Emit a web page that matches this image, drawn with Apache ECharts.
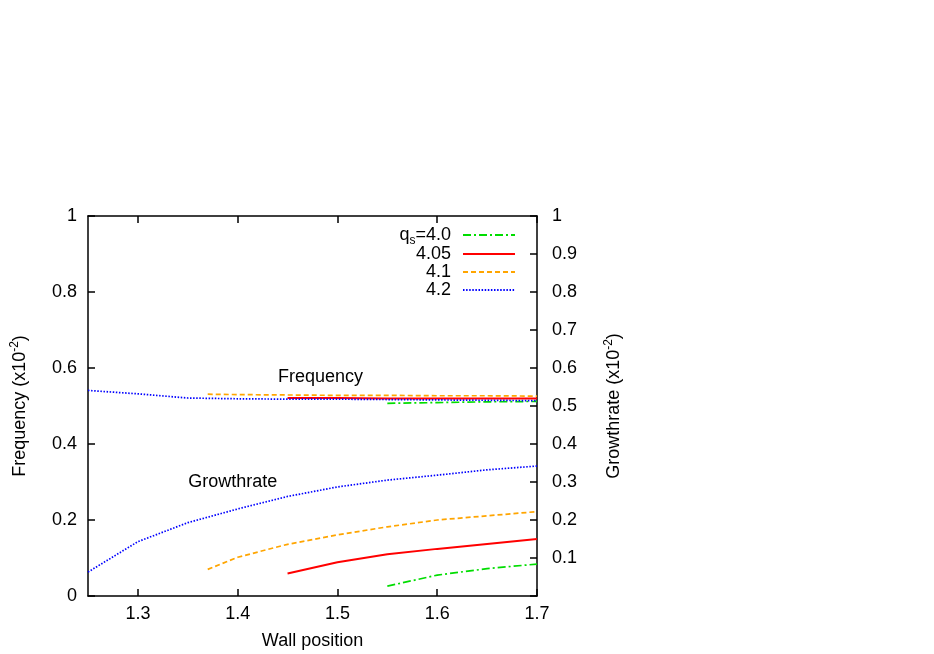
<!DOCTYPE html>
<html><head><meta charset="utf-8">
<script src="https://cdn.jsdelivr.net/npm/echarts@6/dist/echarts.min.js"></script>
<style>html,body{margin:0;padding:0;background:#fff}#c{width:934px;height:654px}</style>
</head><body><div id="c"></div>
<script>
// ---- data ----
const names = ['4.0', '4.05', '4.1', '4.2'];
const x40 = [1.55, 1.6, 1.65, 1.7];
const freq40 = [0.507, 0.509, 0.511, 0.512];
const grow40 = [0.026, 0.055, 0.072, 0.084];
const x405 = [1.45, 1.5, 1.55, 1.6, 1.65, 1.7];
const freq405 = [0.521, 0.521, 0.520, 0.520, 0.520, 0.520];
const grow405 = [0.059, 0.089, 0.110, 0.124, 0.137, 0.150];
const x41 = [1.37, 1.4, 1.45, 1.5, 1.55, 1.6, 1.65, 1.7];
const freq41 = [0.531, 0.530, 0.529, 0.528, 0.528, 0.527, 0.527, 0.526];
const grow41 = [0.070, 0.102, 0.136, 0.161, 0.182, 0.200, 0.211, 0.222];
const x42 = [1.25, 1.3, 1.35, 1.4, 1.45, 1.5, 1.55, 1.6, 1.65, 1.7];
const freq42 = [0.541, 0.532, 0.521, 0.519, 0.518, 0.518, 0.517, 0.516, 0.515, 0.514];
const grow42 = [0.063, 0.143, 0.193, 0.229, 0.262, 0.287, 0.305, 0.318, 0.332, 0.342];
const xTicks = [1.3, 1.4, 1.5, 1.6, 1.7];
const annotations = [{text: 'Frequency', x: 1.483, y: 0.577}, {text: 'Growthrate', x: 1.395, y: 0.300}];

const FONT = '"Liberation Sans", Arial, sans-serif';
const styles = {
  '4.0': {color: '#00dd00', type: [8, 3, 2, 3], width: 1.7},
  '4.05': {color: '#ff0000', type: 'solid', width: 2},
  '4.1': {color: '#ffa500', type: [5, 3], width: 1.7},
  '4.2': {color: '#0000ff', type: [1.5, 1.6], width: 1.7}
};
const sets = {'4.0': [x40, freq40, grow40], '4.05': [x405, freq405, grow405], '4.1': [x41, freq41, grow41], '4.2': [x42, freq42, grow42]};

const zip = (a, b) => a.map((v, i) => [v, b[i]]);
const series = [];
names.forEach(n => {
  const [xs, f, g] = sets[n];
  const st = styles[n];
  [[f, 0], [g, 1]].forEach(([ys, yi]) => {
    series.push({
      name: n, type: 'line', yAxisIndex: yi, data: zip(xs, ys),
      symbol: 'none', showSymbol: false, smooth: false, animation: false,
      color: st.color,
      lineStyle: {color: st.color, type: st.type, width: st.width}
    });
  });
});

const legendTops = [236, 255, 273, 291];
const legends = names.map((n, i) => ({
  data: [n], orient: 'vertical', right: 418, top: legendTops[i] - 10,
  align: 'right', itemWidth: 52, itemHeight: 14, padding: 0, selectedMode: false,
  itemStyle: {opacity: 0, borderWidth: 0},
  formatter: nm => nm === '4.0' ? '{a|q}{s|s}{a|=4.0}' : '{a|' + nm + '}',
  textStyle: {
    fontFamily: FONT, fontSize: 18, color: '#000', padding: [0, 7, 0, 0],
    rich: {a: {fontFamily: FONT, fontSize: 18, color: '#000'},
           s: {fontFamily: FONT, fontSize: 12, color: '#000', padding: [11, 0, 0, 0]}}
  }
}));

const axisText = {fontFamily: FONT, fontSize: 18, color: '#000'};
const option = {
  animation: false,
  backgroundColor: '#fff',
  grid: {left: 88, right: 397, top: 216, bottom: 58, containLabel: false, outerBoundsMode: 'none'},
  legend: legends,
  xAxis: [{
    type: 'value', min: 1.25, max: 1.7, position: 'bottom',
    name: 'Wall position', nameLocation: 'middle', nameGap: 36,
    nameTextStyle: axisText,
    axisLine: {show: true, lineStyle: {color: '#000', width: 1.5}},
    axisTick: {show: true, inside: true, length: 7, customValues: xTicks, lineStyle: {color: '#000', width: 1.5}},
    axisLabel: {show: true, customValues: xTicks, margin: 9, ...axisText, formatter: v => v.toFixed(1)},
    splitLine: {show: false}
  }, {
    type: 'value', min: 1.25, max: 1.7, position: 'top',
    axisLine: {show: true, onZero: false, lineStyle: {color: '#000', width: 1.5}},
    axisTick: {show: true, inside: true, length: 7, customValues: xTicks, lineStyle: {color: '#000', width: 1.5}},
    axisLabel: {show: false}, splitLine: {show: false}
  }],
  yAxis: [{
    type: 'value', min: 0, max: 1, interval: 0.2, position: 'left',
    name: '{a|Frequency (x10}{b|-2}{a|)}', nameLocation: 'middle', nameGap: 57, nameRotate: 90,
    nameTextStyle: {...axisText, rich: {a: axisText, b: {fontFamily: FONT, fontSize: 12, color: '#000', padding: [0, 0, 10, 0]}}},
    axisLine: {show: true, onZero: false, lineStyle: {color: '#000', width: 1.5}},
    axisTick: {show: true, inside: true, length: 7, lineStyle: {color: '#000', width: 1.5}},
    axisLabel: {margin: 11, ...axisText, formatter: v => v === 0 ? '0' : (v === 1 ? '1' : v.toFixed(1))},
    splitLine: {show: false}
  }, {
    type: 'value', min: 0, max: 1, interval: 0.1, position: 'right',
    name: '{a|Growthrate (x10}{b|-2}{a|)}', nameLocation: 'middle', nameGap: 66, nameRotate: 90,
    nameTextStyle: {...axisText, rich: {a: axisText, b: {fontFamily: FONT, fontSize: 12, color: '#000', padding: [0, 0, 10, 0]}}},
    axisLine: {show: true, onZero: false, lineStyle: {color: '#000', width: 1.5}},
    axisTick: {show: true, inside: true, length: 7, lineStyle: {color: '#000', width: 1.5}},
    axisLabel: {margin: 15, ...axisText, formatter: v => v < 0.05 ? '' : (v > 0.95 ? '1' : v.toFixed(1))},
    splitLine: {show: false}
  }],
  series: series
};
const chart = echarts.init(document.getElementById('c'), null, {renderer: 'canvas'});
chart.setOption(option);
const graphics = annotations.map(a => {
  const p = chart.convertToPixel({xAxisIndex: 0, yAxisIndex: 0}, [a.x, a.y]);
  return {type: 'text', x: p[0], y: p[1], style: {text: a.text, font: '18px ' + FONT, fill: '#000', align: 'center', verticalAlign: 'middle'}};
});
chart.setOption({graphic: graphics});
</script>
</body></html>
